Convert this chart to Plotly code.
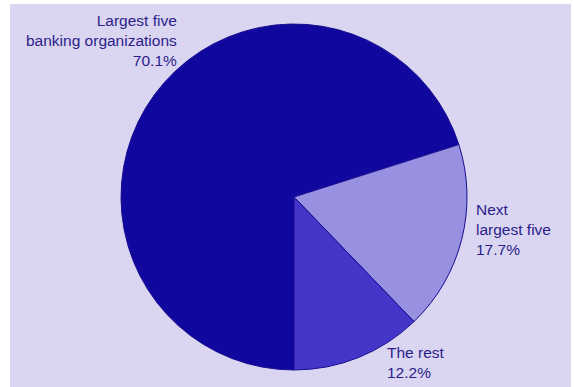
import plotly.graph_objects as go

categories = ["Largest five<br>banking organizations", "Next<br>largest five", "The rest"]
values = [70.1, 17.7, 12.2]
colors = ["#10089e", "#9890e0", "#4436c8"]

W, H = 574, 387
fig = go.Figure(go.Pie(
    labels=categories, values=values, sort=False, direction="clockwise",
    rotation=180, textinfo="none", hoverinfo="label+percent",
    marker=dict(colors=colors, line=dict(color="#1a0e90", width=1)),
    domain=dict(x=[(294 - 173) / W, (294 + 173) / W], y=[(190 - 173) / H, (190 + 173) / H]),
    showlegend=False,
))

label_pos = [
    dict(x=179 / W, y=1 - 10 / H, xanchor="right", yanchor="top", align="right"),
    dict(x=474 / W, y=1 - 199 / H, xanchor="left", yanchor="top", align="left"),
    dict(x=385 / W, y=1 - 342 / H, xanchor="left", yanchor="top", align="left"),
]
for cat, val, p in zip(categories, values, label_pos):
    fig.add_annotation(text=f"{cat}<br>{val:.1f}%", xref="paper", yref="paper",
                       showarrow=False, font=dict(family="Liberation Sans, Arial", size=15.5, color="#2a1e8c"),
                       **p)

fig.add_shape(type="rect", xref="paper", yref="paper", x0=10 / W, x1=1 - 3 / W, y0=0, y1=1 - 4 / H,
              fillcolor="#dad5f0", line=dict(width=0), layer="below")

fig.update_layout(width=W, height=H, margin=dict(l=0, r=0, t=0, b=0),
                  paper_bgcolor="white", plot_bgcolor="white")
fig.write_html("out.html")
